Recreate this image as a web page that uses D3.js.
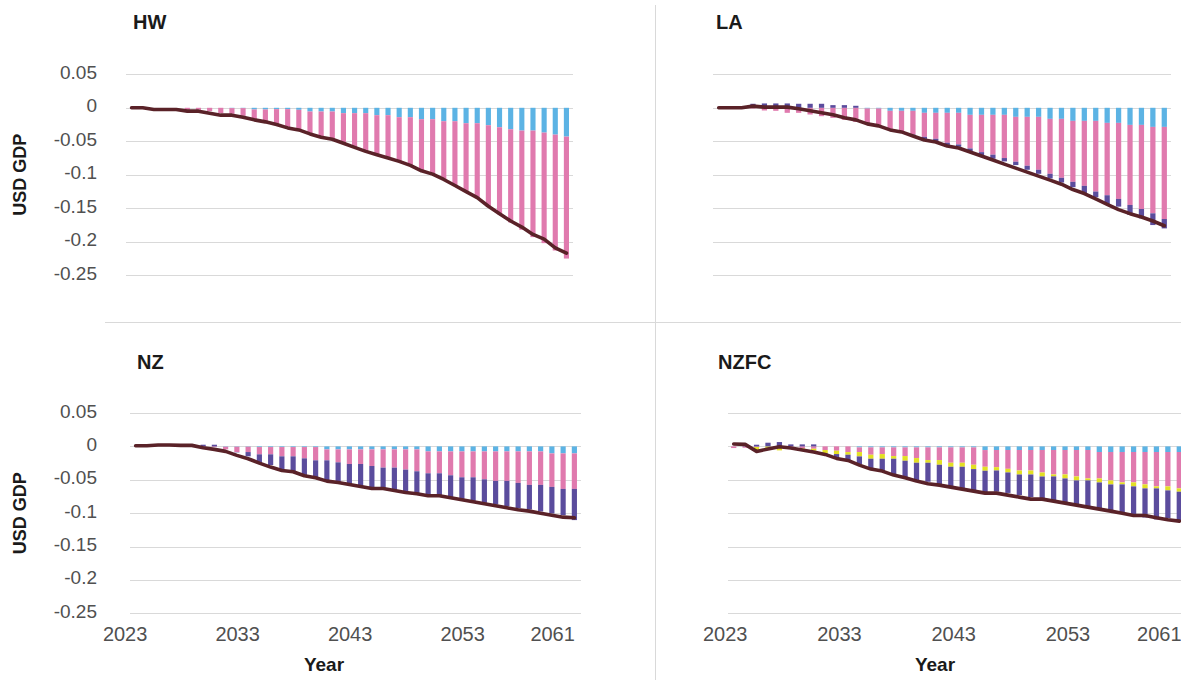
<!DOCTYPE html>
<html><head><meta charset="utf-8">
<script src="https://cdn.jsdelivr.net/npm/d3@7"></script>
<style>
html,body{margin:0;padding:0;background:#fff;}
svg{display:block;font-family:"Liberation Sans",Arial,sans-serif;}
</style></head>
<body>
<svg id="c" width="1181" height="680"></svg>
<script>
// ---------- DATA ----------
const years = [2023,2024,2025,2026,2027,2028,2029,2030,2031,2032,2033,2034,2035,2036,2037,2038,2039,2040,2041,2042,
               2043,2044,2045,2046,2047,2048,2049,2050,2051,2052,2053,2054,2055,2056,2057,2058,2059,2060,2061,2062];
const xTickYears = [2023,2033,2043,2053,2061];
const yTicks = [0.05,0,-0.05,-0.1,-0.15,-0.2,-0.25];
const yTickLabels = ["0.05","0","-0.05","-0.1","-0.15","-0.2","-0.25"];
const panelTitles = ["HW","LA","NZ","NZFC"];

// HW
const hwBlue = [0,0,0,0,0,0,0,0,0,-0.0005,-0.0005,-0.0025,-0.0025,-0.002,-0.002,-0.003,-0.0055,-0.0055,-0.0055,-0.008,
  -0.008,-0.008,-0.011,-0.011,-0.014,-0.014,-0.017,-0.017,-0.020,-0.020,-0.023,-0.023,-0.026,-0.029,-0.032,-0.034,-0.034,-0.037,-0.040,-0.043];
const hwPink = [0,0,0,0,0,-0.003,-0.003,-0.005,-0.008,-0.0085,-0.0115,-0.0165,-0.0185,-0.023,-0.028,-0.030,-0.0335,-0.0385,-0.0415,-0.045,
  -0.051,-0.057,-0.059,-0.064,-0.066,-0.072,-0.077,-0.082,-0.087,-0.096,-0.101,-0.112,-0.122,-0.130,-0.139,-0.148,-0.159,-0.165,-0.173,-0.182];
const hwTotal = [0,0,-0.0025,-0.0025,-0.0025,-0.005,-0.005,-0.008,-0.011,-0.011,-0.014,-0.018,-0.021,-0.025,-0.030,-0.033,-0.039,-0.044,-0.047,-0.053,
  -0.059,-0.065,-0.070,-0.075,-0.080,-0.086,-0.094,-0.099,-0.107,-0.116,-0.125,-0.134,-0.147,-0.158,-0.169,-0.178,-0.189,-0.196,-0.209,-0.217];

// LA
const laBlue = [0,0,0,0,0,0,0,0,0,0,0,0,0,-0.001,-0.001,-0.0045,-0.0045,-0.0045,-0.0075,-0.0075,
  -0.0075,-0.0075,-0.0105,-0.0105,-0.0105,-0.0105,-0.0135,-0.0135,-0.0135,-0.0165,-0.0165,-0.0195,-0.0195,-0.0195,-0.0225,-0.0225,-0.0255,-0.0255,-0.0285,-0.0285];
const laPink = [0,0,0,-0.001,-0.004,-0.0045,-0.0075,-0.0075,-0.010,-0.0125,-0.015,-0.018,-0.021,-0.023,-0.026,-0.0275,-0.031,-0.0355,-0.0358,-0.0388,
  -0.0447,-0.0472,-0.0502,-0.0557,-0.0595,-0.0645,-0.067,-0.073,-0.079,-0.082,-0.088,-0.091,-0.097,-0.1055,-0.108,-0.1135,-0.1195,-0.1255,-0.129,-0.1375];
const laPurple = [0,0,0,0.006,0.0065,0.0065,0.0065,0.006,0.006,0.006,0.004,0.004,0.003,0,0,-0.001,-0.001,-0.002,-0.004,-0.0045,
  -0.004,-0.0035,-0.004,-0.0045,-0.006,-0.005,-0.005,-0.006,-0.006,-0.007,-0.007,-0.008,-0.012,-0.0085,-0.013,-0.0115,-0.015,-0.014,-0.0175,-0.014];
const laTotal = [0,0,0,0.0025,0.001,0.001,0.001,-0.0015,-0.0045,-0.0075,-0.0105,-0.015,-0.018,-0.024,-0.027,-0.033,-0.036,-0.042,-0.048,-0.051,
  -0.057,-0.060,-0.066,-0.072,-0.078,-0.084,-0.090,-0.096,-0.102,-0.108,-0.114,-0.122,-0.128,-0.136,-0.144,-0.152,-0.158,-0.163,-0.169,-0.176];

// NZ
const nzBlue = [0,0,0,0,0,0,0,0,-0.0005,-0.0005,-0.0005,-0.001,-0.001,-0.001,-0.001,-0.001,-0.001,-0.0045,-0.0045,-0.0045,
  -0.0045,-0.0045,-0.0045,-0.0045,-0.0045,-0.0045,-0.0075,-0.0075,-0.0075,-0.0075,-0.0075,-0.0075,-0.0075,-0.0075,-0.0075,-0.0075,-0.0075,-0.0105,-0.0105,-0.0105];
const nzPink = [0,0,0,0,0,0,-0.001,-0.001,-0.004,-0.008,-0.008,-0.0109,-0.0109,-0.0139,-0.0139,-0.0169,-0.0199,-0.0164,-0.0194,-0.0219,
  -0.0219,-0.0249,-0.0273,-0.0273,-0.0303,-0.0328,-0.0328,-0.0328,-0.0358,-0.0388,-0.0388,-0.0418,-0.0442,-0.0442,-0.0472,-0.0502,-0.0502,-0.0502,-0.0532,-0.0532];
const nzPurple = [0,0,0,0,0,0,0.0025,0.0025,0,-0.0005,-0.0064,-0.014,-0.016,-0.0194,-0.0229,-0.0249,-0.0259,-0.0303,-0.0298,-0.0303,
  -0.0328,-0.0323,-0.0314,-0.0339,-0.0334,-0.0333,-0.0328,-0.0338,-0.0333,-0.0328,-0.0353,-0.0353,-0.0354,-0.0379,-0.0378,-0.0368,-0.0398,-0.0398,-0.0393,-0.0467];
const nzTotal = [0.001,0.001,0.002,0.002,0.0015,0.0015,-0.002,-0.0045,-0.0075,-0.0135,-0.0185,-0.025,-0.031,-0.036,-0.038,-0.044,-0.047,-0.052,-0.054,-0.057,
  -0.060,-0.063,-0.063,-0.066,-0.069,-0.071,-0.074,-0.074,-0.077,-0.080,-0.083,-0.086,-0.089,-0.092,-0.095,-0.097,-0.100,-0.103,-0.106,-0.107];

// NZFC
const nzfcBlue = [0,0,0,0,0,0,0,0,0,0,0,-0.0015,-0.0015,-0.0015,-0.0015,-0.0015,-0.0015,-0.0015,-0.0015,-0.0015,
  -0.0015,-0.0015,-0.0055,-0.0054,-0.0054,-0.0054,-0.0054,-0.0054,-0.0054,-0.0054,-0.0054,-0.0054,-0.0084,-0.0084,-0.0084,-0.0084,-0.0084,-0.0084,-0.0084,-0.0084];
const nzfcPink = [-0.0025,-0.002,-0.001,0,-0.001,-0.002,-0.003,-0.0035,-0.0055,-0.0065,-0.0085,-0.007,-0.011,-0.010,-0.013,-0.013,-0.016,-0.019,-0.019,-0.023,
  -0.023,-0.026,-0.025,-0.0257,-0.0282,-0.0307,-0.0307,-0.0337,-0.0366,-0.0366,-0.0396,-0.0426,-0.0396,-0.0426,-0.0455,-0.0455,-0.0485,-0.0515,-0.0515,-0.0545];
const nzfcYellow = [0,0,-0.006,-0.003,-0.005,-0.001,-0.002,-0.003,-0.0045,-0.005,-0.004,-0.0065,-0.006,-0.007,-0.004,-0.007,-0.007,-0.004,-0.007,-0.006,
  -0.006,-0.0065,-0.006,-0.005,-0.0054,-0.006,-0.006,-0.006,-0.003,-0.006,-0.006,-0.003,-0.006,-0.006,-0.003,-0.006,-0.006,-0.003,-0.006,-0.005];
const nzfcPurple = [0,0.001,0.0025,0.0055,0.0065,0.003,0.003,0.003,-0.001,-0.006,-0.008,-0.0115,-0.015,-0.019,-0.024,-0.025,-0.027,-0.0285,-0.029,-0.029,
  -0.032,-0.032,-0.032,-0.0317,-0.0307,-0.0307,-0.0337,-0.0327,-0.0356,-0.0356,-0.0356,-0.0386,-0.0386,-0.0386,-0.0416,-0.0416,-0.0436,-0.0465,-0.0416,-0.0436];
const nzfcTotal = [0.0035,0.003,-0.0075,-0.004,-0.0005,-0.0025,-0.0055,-0.0085,-0.012,-0.018,-0.021,-0.028,-0.034,-0.037,-0.043,-0.047,-0.052,-0.056,-0.058,-0.061,
  -0.064,-0.067,-0.070,-0.070,-0.073,-0.076,-0.079,-0.079,-0.082,-0.085,-0.088,-0.091,-0.094,-0.097,-0.100,-0.1035,-0.1035,-0.107,-0.110,-0.112];

// ---------- STYLE / LAYOUT ----------
const colors = {blue:"#5cb3e4", pink:"#e07aae", yellow:"#e3df24", purple:"#5b4c9d"};
const lineColor = "#5a2228";
const gridColor = "#d9d9d9";
const keys = ["blue","pink","yellow","purple"];

const panels = [
  {title:panelTitles[0], series:{blue:hwBlue,pink:hwPink}, total:hwTotal,
   xr:[126,572], yr:[275.3,74.3], tx:133, ty:29, yLab:true, xLab:false},
  {title:panelTitles[1], series:{blue:laBlue,pink:laPink,purple:laPurple}, total:laTotal,
   xr:[713,1170], yr:[275.3,74.3], tx:716, ty:29, yLab:false, xLab:false},
  {title:panelTitles[2], series:{blue:nzBlue,pink:nzPink,purple:nzPurple}, total:nzTotal,
   xr:[130,580], yr:[613.3,413], tx:137, ty:369, yLab:true, xLab:true, lOff:-10.5, yearX:324},
  {title:panelTitles[3], series:{blue:nzfcBlue,pink:nzfcPink,yellow:nzfcYellow,purple:nzfcPurple}, total:nzfcTotal,
   xr:[728,1185], yr:[613.3,413], tx:718, ty:369, yLab:false, xLab:true, lOff:-8.5, yearX:935}
];

const svg = d3.select("#c");

// dividers
svg.append("line").attr("x1",655.5).attr("x2",655.5).attr("y1",5).attr("y2",680)
  .attr("stroke",gridColor).attr("stroke-width",1);
svg.append("line").attr("x1",105).attr("x2",1181).attr("y1",322.5).attr("y2",322.5)
  .attr("stroke",gridColor).attr("stroke-width",1);

panels.forEach(p => {
  const g = svg.append("g");
  const x = d3.scaleBand().domain(years).range(p.xr);
  const y = d3.scaleLinear().domain([-0.25,0.05]).range(p.yr);
  const bw = x.bandwidth();
  const barW = bw*0.46;

  // gridlines
  g.append("g").selectAll("line").data(yTicks).join("line")
    .attr("x1",p.xr[0]).attr("x2",Math.min(p.xr[1]+1,1181))
    .attr("y1",d=>Math.round(y(d))+0.5).attr("y2",d=>Math.round(y(d))+0.5)
    .attr("stroke",gridColor).attr("stroke-width",1.2);

  // y tick labels
  if (p.yLab) {
    g.append("g").selectAll("text").data(yTicks).join("text")
      .attr("x",97).attr("y",d=>y(d)-2)
      .attr("text-anchor","end").attr("dominant-baseline","central")
      .attr("font-size",19).attr("fill","#505050")
      .text((d,i)=>yTickLabels[i]);
    g.append("text")
      .attr("transform",`translate(26,${(p.yr[0]+p.yr[1])/2}) rotate(-90)`)
      .attr("text-anchor","middle").attr("font-size",18).attr("font-weight","bold").attr("fill","#1a1a1a")
      .text("USD GDP");
  }

  // stacked bars
  const table = years.map((yr,i)=>{
    const o = {year:yr};
    keys.forEach(k=>{ o[k] = p.series[k] ? p.series[k][i] : 0; });
    return o;
  });
  const stacked = d3.stack().keys(keys).offset(d3.stackOffsetDiverging)(table);
  g.append("g").selectAll("g").data(stacked).join("g")
    .attr("fill",d=>colors[d.key])
    .selectAll("rect").data(d=>d).join("rect")
      .attr("x",d=>x(d.data.year)+bw/2-barW/2)
      .attr("width",barW)
      .attr("y",d=>y(Math.max(d[0],d[1])))
      .attr("height",d=>Math.abs(y(d[0])-y(d[1])));

  // total line
  const line = d3.line().x((d,i)=>x(years[i])+bw/2).y(d=>y(d));
  g.append("path").datum(p.total).attr("d",line)
    .attr("fill","none").attr("stroke",lineColor).attr("stroke-width",3.6)
    .attr("stroke-linejoin","round").attr("stroke-linecap","round");

  // title
  g.append("text").attr("x",p.tx).attr("y",p.ty)
    .attr("font-size",20).attr("font-weight","bold").attr("fill","#1a1a1a").text(p.title);

  // x labels
  if (p.xLab) {
    g.append("g").selectAll("text").data(xTickYears).join("text")
      .attr("x",d=>x(d)+bw/2+p.lOff).attr("y",634)
      .attr("text-anchor","middle").attr("dominant-baseline","central")
      .attr("font-size",20).attr("fill","#505050").text(d=>d);
    g.append("text").attr("x",p.yearX).attr("y",664)
      .attr("text-anchor","middle").attr("dominant-baseline","central")
      .attr("font-size",19).attr("font-weight","bold").attr("fill","#1a1a1a").text("Year");
  }
});
</script>
</body></html>
